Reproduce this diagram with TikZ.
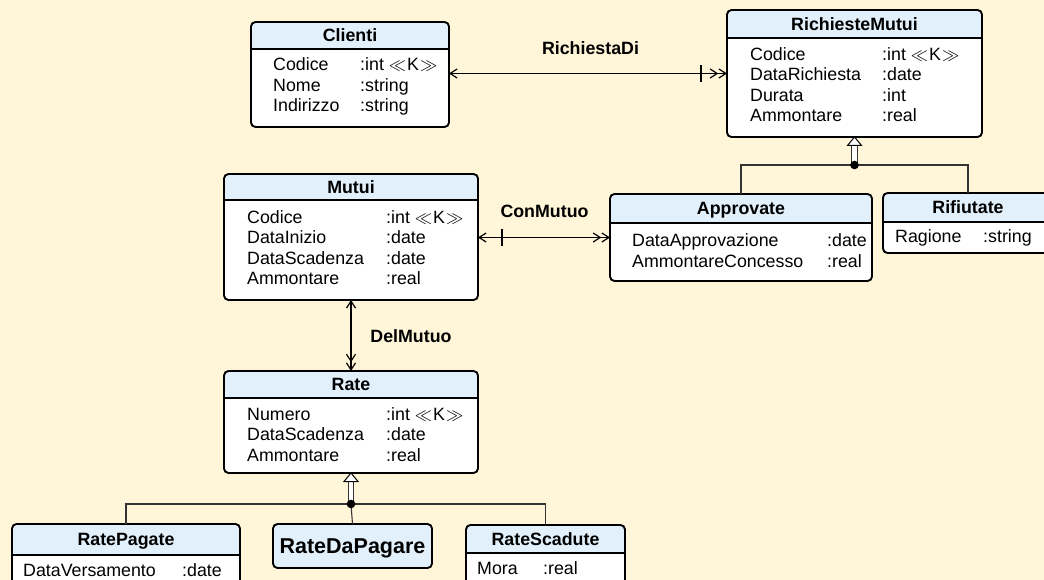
\documentclass[tikz,border=0pt]{standalone}
\usepackage{fontspec}
\setmainfont{Liberation Sans}
\usetikzlibrary{arrows.meta}
\definecolor{bgcol}{RGB}{255,245,216}
\definecolor{hdrcol}{RGB}{225,240,251}
\definecolor{gencol}{RGB}{51,51,51}
\tikzset{
  boxline/.style={line width=1.9pt, rounded corners=4.5pt},
  attr/.style={anchor=base west, inner sep=0pt, font=\fontsize{17.8}{20}\selectfont},
  hdrtext/.style={anchor=base, inner sep=0pt, font=\fontsize{17.8}{20}\selectfont\bfseries},
  asslabel/.style={anchor=base, inner sep=0pt, font=\fontsize{17.8}{20}\selectfont\bfseries},
  barb/.tip={Straight Barb[length=7pt,width=9pt,line width=1.2pt]},
  assoc/.style={line width=1.2pt, black},
  genline/.style={line width=1.1pt, gencol},
}
\newcommand\KK{$\ll$\kern1pt K\kern1pt$\gg$}
% #1 name, #2 x1, #3 y1, #4 x2, #5 y2, #6 header bottom, #7 title
\newcommand\umlclass[7]{%
  \node[inner sep=0pt, outer sep=0pt, fill=white, rounded corners=4.5pt,
        minimum width={#4pt-#2pt}, minimum height={#5pt-#3pt}]
        (#1) at ({(#2+#4)/2},{(#3+#5)/2}) {};
  \begin{scope}
    \clip[rounded corners=4.5pt] (#1.north west) rectangle (#1.south east);
    \fill[hdrcol] (#2,#3) rectangle (#4,#6);
  \end{scope}
  \draw[line width=1.9pt] (#2,#6) -- (#4,#6);
  \draw[boxline] (#1.north west) rectangle (#1.south east);
  \node[hdrtext] (#1-title) at ({(#2+#4)/2},{(#3+#6)/2+6.4}) {#7};
}
% generalisation arrow: #1 dot coordinate, #2 superclass node
\newcommand\genarrow[2]{%
  \draw[gencol, line width=1pt, fill=white]
     ([xshift=-2.6pt,yshift=-9pt]#2.south) rectangle ([xshift=2.6pt]#2.south |- #1);
  \fill[white] ([xshift=-1.6pt,yshift=-9pt]#2.south) rectangle ([xshift=1.6pt,yshift=-1pt]#2.south |- #1);
  \draw[black, line width=1pt, fill=white, line join=miter]
     (#2.south) -- ++(-7pt,-8.5pt) -- ++(14pt,0) -- cycle;
  \fill[black] (#1) circle (4.3pt);
}
\begin{document}
\begin{tikzpicture}[x=1pt,y=-1pt]
\useasboundingbox[fill=bgcol] (0,0) rectangle (1044,580);

% ---------- classes ----------
\umlclass{clienti}{251}{22}{449}{127}{49}{Clienti}
\node[attr] (c1) at (273,71) {Codice};
\node[attr] (c2) at (273,91.5) {Nome};
\node[attr] (c3) at (273,112) {Indirizzo};
\node[attr] (c1t) at (360,71) {:int \KK};
\node[attr] (c2t) at (360,91.5) {:string};
\node[attr] (c3t) at (360,112) {:string};

\umlclass{rm}{727}{10}{982}{137}{38}{RichiesteMutui}
\node[attr] (r1) at (750,60.5) {Codice};
\node[attr] (r2) at (750,81) {DataRichiesta};
\node[attr] (r3) at (750,101.5) {Durata};
\node[attr] (r4) at (750,122) {Ammontare};
\node[attr] (r1t) at (882,60.5) {:int \KK};
\node[attr] (r2t) at (882,81) {:date};
\node[attr] (r3t) at (882,101.5) {:int};
\node[attr] (r4t) at (882,122) {:real};

\umlclass{mutui}{224}{174}{478}{300}{200}{Mutui}
\node[attr] (m1) at (247,223) {Codice};
\node[attr] (m2) at (247,243.5) {DataInizio};
\node[attr] (m3) at (247,264) {DataScadenza};
\node[attr] (m4) at (247,284.5) {Ammontare};
\node[attr] (m1t) at (386,223) {:int \KK};
\node[attr] (m2t) at (386,243.5) {:date};
\node[attr] (m3t) at (386,264) {:date};
\node[attr] (m4t) at (386,284.5) {:real};

\umlclass{approvate}{610}{194}{872}{281}{223}{Approvate}
\node[attr] (a1) at (632,246.5) {DataApprovazione};
\node[attr] (a2) at (632,267) {AmmontareConcesso};
\node[attr] (a1t) at (827,246.5) {:date};
\node[attr] (a2t) at (827,267) {:real};

\umlclass{rifiutate}{883}{193}{1053}{253}{222}{Rifiutate}
\node[attr] (f1) at (895,243) {Ragione};
\node[attr] (f1t) at (983,243) {:string};

\umlclass{rate}{224}{371}{478}{473}{398}{Rate}
\node[attr] (t1) at (247,420) {Numero};
\node[attr] (t2) at (247,440.5) {DataScadenza};
\node[attr] (t3) at (247,461) {Ammontare};
\node[attr] (t1t) at (386,420) {:int \KK};
\node[attr] (t2t) at (386,440.5) {:date};
\node[attr] (t3t) at (386,461) {:real};

\umlclass{ratepagate}{12}{524}{240}{600}{555}{RatePagate}
\node[attr] (p1) at (23,576) {DataVersamento};
\node[attr] (p1t) at (182,576) {:date};

% RateDaPagare: header-only box
\node[inner sep=0pt, outer sep=0pt, fill=hdrcol, draw, line width=1.9pt, rounded corners=4.5pt,
      minimum width=159pt, minimum height=44pt] (rdp) at (352.5,546) {};
\node[anchor=base, inner sep=0pt, font=\fontsize{21.5}{24}\selectfont\bfseries] (rdp-title) at (352.5,553.5) {RateDaPagare};

\umlclass{ratescadute}{466}{525}{625}{600}{553}{RateScadute}
\node[attr] (s1) at (477,574) {Mora};
\node[attr] (s1t) at (543,574) {:real};

% ---------- generalisations ----------
\coordinate (g1) at ([yshift=-28pt]rm.south);
\draw[genline] (approvate.north) |- (g1) -| (rifiutate.north);
\genarrow{g1}{rm}

\coordinate (g2) at ([yshift=-31pt]rate.south);
\draw[genline] (ratepagate.north) |- (g2) -| (ratescadute.north);
\draw[genline] (g2) -- (rdp.north);
\genarrow{g2}{rate}

% ---------- associations ----------
\draw[assoc, {barb}-{barb[]barb}] (clienti.east |- rm.west) -- (rm.west);
\draw[assoc] ([xshift=-26pt]rm.west) ++(0,-8.5) -- ++(0,17);
\node[asslabel] (lab1) at (590.5,55) {RichiestaDi};

\draw[assoc, {barb}-{barb[]barb}] (mutui.east |- approvate.west) -- (approvate.west);
\draw[assoc] ([xshift=24pt]mutui.east |- approvate.west) ++(0,-8.5) -- ++(0,17);
\node[asslabel] (lab2) at (544.5,218) {ConMutuo};

\draw[assoc, {barb}-{barb[]barb}] (mutui.south) -- (rate.north);
\node[asslabel] (lab3) at (411,342) {DelMutuo};
\end{tikzpicture}
\end{document}
